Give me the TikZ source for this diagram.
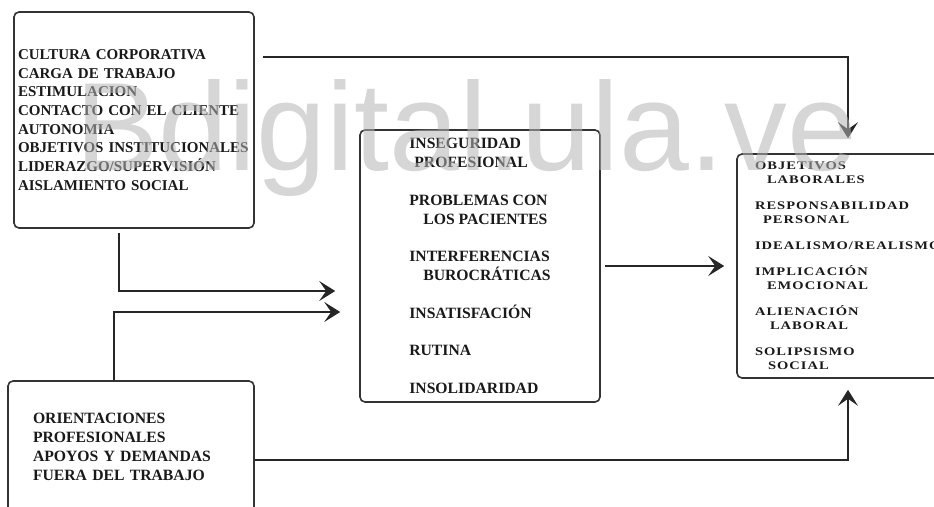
\documentclass[tikz,border=0pt]{standalone}
\usepackage{fontspec}
\setmainfont{Liberation Serif}
\newfontfamily\markfont{Liberation Sans}
\newfontfamily\spacedfont{Liberation Serif}[FakeStretch=1.25,LetterSpace=9]
\usetikzlibrary{arrows.meta}
\definecolor{markgray}{RGB}{180,180,180}

\begin{document}
\begin{tikzpicture}[x=1pt,y=1pt,
    box/.style={draw=black!80,line width=1.6pt,rounded corners=5pt,align=left,text=black!90},
    bigtext/.style={font=\bfseries\fontsize{15.7}{19}\selectfont},
    conn/.style={draw=black!85,line width=1.3pt,-{Stealth[length=16pt,width=20pt,inset=7pt]}}]
    \useasboundingbox (0,0) rectangle (934,-506);
    \clip (0,0) rectangle (934,-506);

    \node[box,font=\bfseries\fontsize{15}{18.7}\selectfont,minimum width=240pt,minimum height=216pt,text width=232pt,inner xsep=4pt] (cultura) at (134,-120)
        {CULTURA CORPORATIVA\\CARGA DE TRABAJO\\ESTIMULACION\\CONTACTO CON EL CLIENTE\\AUTONOMIA\\OBJETIVOS INSTITUCIONALES\\LIDERAZGO/SUPERVISIÓN\\AISLAMIENTO SOCIAL};
    \node[box,bigtext,minimum width=246pt,minimum height=131pt,text width=196pt,inner xsep=25pt] (orient) at (131,-446.5)
        {ORIENTACIONES\\PROFESIONALES\\APOYOS Y DEMANDAS\\FUERA DEL TRABAJO};
    \node[box,bigtext,minimum width=240pt,minimum height=272pt] (estres) at (480,-266)
        {INSEGURIDAD\\\hspace*{5pt}PROFESIONAL\\[18.5pt]PROBLEMAS CON\\\hspace*{14pt}LOS PACIENTES\\[18.5pt]INTERFERENCIAS\\\hspace*{14pt}BUROCRÁTICAS\\[18.5pt]INSATISFACIÓN\\[18.5pt]RUTINA\\[18.5pt]INSOLIDARIDAD};
    \node[box,font=\spacedfont\bfseries\fontsize{11.6}{14}\selectfont,minimum width=222pt,minimum height=224pt,text width=186pt,inner xsep=18pt] (efectos) at (848,-266)
        {OBJETIVOS\\\hspace*{12pt}LABORALES\\[12pt]RESPONSABILIDAD\\\hspace*{8pt}PERSONAL\\[12pt]\mbox{IDEALISMO/REALISMO}\\[12pt]IMPLICACIÓN\\\hspace*{12pt}EMOCIONAL\\[12pt]ALIENACIÓN\\\hspace*{15pt}LABORAL\\[12pt]SOLIPSISMO\\\hspace*{13pt}SOCIAL};

    \draw[conn,shorten <=8pt,shorten >=15pt] ([yshift=63pt]cultura.east) -| (efectos.north);
    \draw[conn,shorten <=4pt,shorten >=24pt] ([xshift=-15pt]cultura.south) |- ([yshift=-25pt]estres.west);
    \draw[conn,shorten >=19pt] ([xshift=-17pt]orient.north) |- ([yshift=-46pt]estres.west);
    \draw[conn,shorten <=4pt,shorten >=12pt] (estres.east) -- (efectos.west);
    \draw[conn,shorten >=11pt] ([yshift=-13.5pt]orient.east) -| (efectos.south);

    \node[font=\markfont\fontsize{125.6}{125.6}\selectfont,text=markgray,text opacity=0.55,anchor=base west,inner sep=0pt] (marca) at (75,-170) {Bdigital.ula.ve};
\end{tikzpicture}
\end{document}
